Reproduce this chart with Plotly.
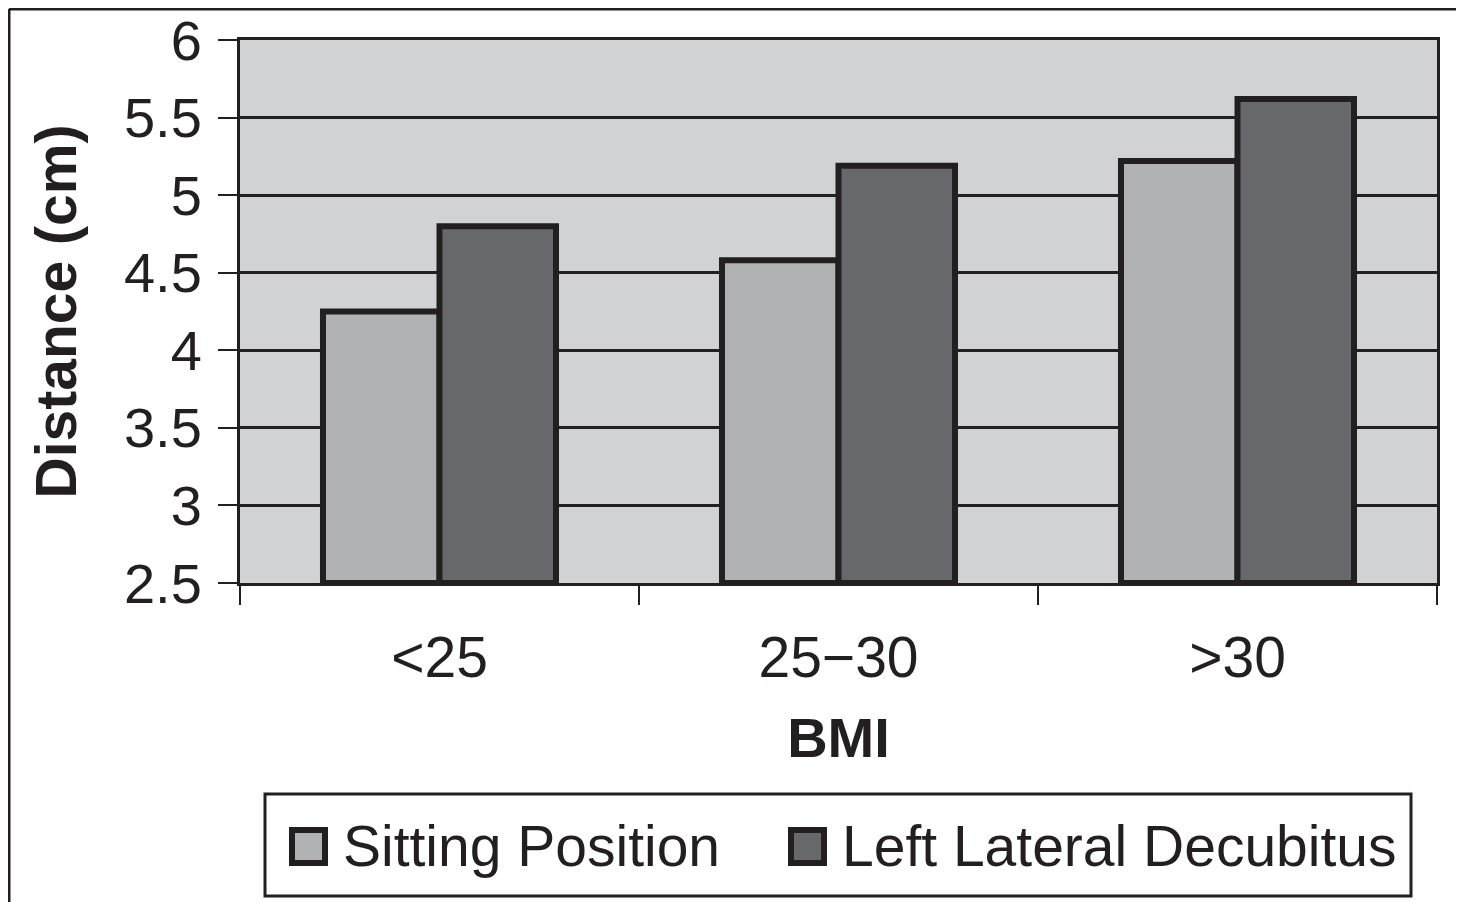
import plotly.graph_objects as go

categories = ["<25", "25\u221230", ">30"]
sitting = [4.25, 4.58, 5.22]
lateral = [4.80, 5.19, 5.62]
series_names = ["Sitting Position", "Left Lateral Decubitus"]
series_colors = ["#b1b2b4", "#67686c"]
y_ticks = [2.5, 3, 3.5, 4, 4.5, 5, 5.5, 6]
y_tick_labels = ["2.5", "3", "3.5", "4", "4.5", "5", "5.5", "6"]
BASE = 2.5

INK = "#231f20"
FONT = "Liberation Sans, Arial, Helvetica, sans-serif"

# page is offset 8px by the body margin; figure sized to fill the rest
W, H = 1456, 894
ML, MR, MT, MB = 232, 27, 32, 319
PW, PH = W - ML - MR, H - MT - MB
OFF = 8


def px(xp):  # page pixel x -> paper
    return (xp - OFF - ML) / PW


def py(yp):  # page pixel y -> paper
    return (H - MB - (yp - OFF)) / PH


fig = go.Figure()
for name, vals, col in [(series_names[0], sitting, series_colors[0]),
                        (series_names[1], lateral, series_colors[1])]:
    fig.add_trace(go.Bar(
        x=categories, y=[v - BASE for v in vals], base=BASE, name=name,
        marker=dict(color=col, line=dict(color=INK, width=6)),
        customdata=vals, hovertemplate="%{x}: %{customdata}<extra>" + name + "</extra>",
    ))

fig.update_layout(
    width=W, height=H,
    margin=dict(l=ML, r=MR, t=MT, b=MB, autoexpand=False),
    paper_bgcolor="white", plot_bgcolor="#d1d2d4",
    barmode="group", bargap=0.416, bargroupgap=0,
    font=dict(family=FONT, color=INK, size=56),
    showlegend=False,
    xaxis=dict(
        showline=True, linecolor=INK, linewidth=3, mirror=True,
        ticks="outside", ticklen=19, tickwidth=2, tickcolor=INK,
        tickson="boundaries", ticklabelstandoff=23,
        tickfont=dict(size=57),
        title=dict(text="<b>BMI</b>", font=dict(size=56), standoff=30),
        showgrid=False, zeroline=False,
    ),
    yaxis=dict(
        range=[2.5, 6], tickvals=y_ticks, ticktext=y_tick_labels,
        showline=True, linecolor=INK, linewidth=3, mirror=True,
        ticks="outside", ticklen=19, tickwidth=2, tickcolor=INK,
        ticklabelstandoff=5,
        showgrid=True, gridcolor=INK, gridwidth=3, zeroline=False,
        tickfont=dict(size=56),
        title=dict(text="<b>Distance (cm)</b>", font=dict(size=57), standoff=29),
    ),
)

# Outer frame (top and left edges of the figure)
fig.add_shape(type="line", xref="paper", yref="paper",
              x0=px(9), x1=px(1470), y0=py(9), y1=py(9), line=dict(color=INK, width=3))
fig.add_shape(type="line", xref="paper", yref="paper",
              x0=px(9), x1=px(9), y0=py(9), y1=py(910), line=dict(color=INK, width=3))

# Legend box
fig.add_shape(type="rect", xref="paper", yref="paper",
              x0=px(265), x1=px(1411), y0=py(794), y1=py(896),
              line=dict(color=INK, width=3), fillcolor="white")

# Legend entries
legend_sq_x = [289, 788]
legend_txt_x = [341, 840]
for name, col, sx, tx in zip(series_names, series_colors, legend_sq_x, legend_txt_x):
    fig.add_shape(type="rect", xref="paper", yref="paper",
                  x0=px(sx + 3), x1=px(sx + 36), y0=py(830), y1=py(863),
                  line=dict(color=INK, width=6), fillcolor=col)
    fig.add_annotation(xref="paper", yref="paper", x=px(tx), y=py(846),
                       xanchor="left", yanchor="middle", text=name, showarrow=False,
                       font=dict(size=57, family=FONT, color=INK))

fig.write_html("out.html")
